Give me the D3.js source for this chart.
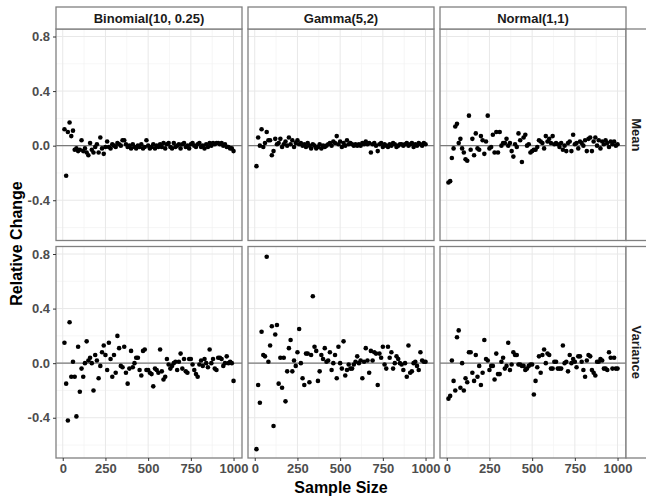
<!DOCTYPE html>
<html>
<head>
<meta charset="utf-8">
<script src="https://cdn.jsdelivr.net/npm/d3@7"></script>
<style>
  body { margin: 0; background: #fff; }
  text { font-family: "Liberation Sans", Arial, sans-serif; }
</style>
</head>
<body>
<div id="chart"></div>
<script>
var distributions = ["Binomial(10, 0.25)", "Gamma(5,2)", "Normal(1,1)"];
var statistics = ["Mean", "Variance"];

var sampleSizes = [10,20,30,40,50,60,70,80,90,100,110,120,130,140,150,160,170,180,190,200,
  210,220,230,240,250,260,270,280,290,300,310,320,330,340,350,360,370,380,390,400,
  410,420,430,440,450,460,470,480,490,500,510,520,530,540,550,560,570,580,590,600,
  610,620,630,640,650,660,670,680,690,700,710,720,730,740,750,760,770,780,790,800,
  810,820,830,840,850,860,870,880,890,900,910,920,930,940,950,960,970,980,990,1000];

var binomMean = [0.12,-0.22,0.10,0.17,0.07,0.11,-0.03,-0.02,-0.04,-0.03,
  0.04,-0.04,-0.02,-0.05,-0.07,0.02,-0.03,-0.05,-0.01,0.01,
  -0.05,0.06,-0.02,-0.06,-0.01,0.03,-0.01,-0.02,0.01,0.00,
  -0.01,0.02,0.01,0.00,0.04,0.04,0.01,-0.01,0.00,-0.02,
  0.01,-0.01,-0.02,0.00,-0.01,0.01,-0.02,-0.01,0.04,0.00,
  -0.02,-0.01,0.01,-0.02,0.00,-0.01,0.01,-0.01,0.02,-0.02,
  0.01,0.02,-0.01,-0.02,0.02,-0.01,0.00,0.01,-0.02,0.01,
  0.02,-0.01,0.00,-0.02,0.01,0.02,0.00,-0.01,0.01,0.02,
  -0.01,0.00,-0.02,0.01,-0.01,0.02,0.00,0.02,0.01,0.02,
  0.02,0.01,0.02,0.00,0.01,-0.01,-0.01,-0.02,-0.02,-0.04];

var gammaMean = [-0.15,0.06,0.00,0.12,-0.01,0.02,0.10,0.04,0.04,-0.07,
  -0.04,0.05,0.01,0.02,0.05,-0.01,0.01,0.03,0.00,0.06,
  0.01,0.04,-0.01,0.02,0.04,0.01,0.02,0.00,0.01,-0.01,
  0.02,0.00,-0.02,0.01,0.00,-0.02,-0.01,0.01,-0.02,0.00,
  -0.01,0.00,0.01,0.02,0.00,0.03,0.02,0.07,0.01,0.03,
  -0.01,0.02,0.00,0.04,0.01,0.02,0.01,0.00,0.01,0.00,
  0.01,0.00,0.02,0.01,0.03,0.01,0.02,-0.05,0.01,0.02,
  0.00,-0.04,0.01,0.02,-0.01,0.01,0.00,-0.01,0.01,0.00,
  0.02,0.01,-0.01,0.00,0.01,0.01,0.00,0.01,0.02,0.00,
  0.01,0.02,-0.01,0.01,0.00,0.02,0.01,0.00,0.02,0.01];

var normalMean = [-0.27,-0.26,-0.09,-0.02,0.14,0.16,0.02,0.05,-0.02,-0.05,
  -0.10,-0.11,0.22,-0.03,0.05,-0.07,0.09,-0.02,-0.03,0.07,
  0.04,-0.06,0.03,0.22,-0.02,-0.01,0.08,-0.05,0.10,-0.05,
  0.10,0.00,0.02,0.02,0.05,0.00,0.02,-0.04,-0.08,0.01,
  -0.01,0.09,0.04,-0.12,0.06,0.08,0.00,0.01,-0.05,-0.04,
  -0.03,-0.03,-0.01,0.04,0.03,0.02,-0.02,0.07,0.03,0.05,
  0.02,0.07,0.01,0.02,0.01,-0.01,0.02,-0.03,0.00,-0.04,
  0.02,0.03,-0.04,0.08,0.01,0.02,-0.02,0.03,0.02,0.00,
  0.04,-0.04,0.05,0.06,-0.04,0.03,0.06,0.00,0.04,-0.02,
  0.03,0.01,0.04,0.02,-0.01,0.03,0.01,0.03,0.00,0.01];

var binomVar = [0.15,-0.15,-0.42,0.30,-0.10,0.01,-0.10,-0.39,0.12,-0.21,
  -0.04,-0.10,0.00,0.16,0.02,0.04,0.00,-0.20,0.06,0.02,
  -0.11,-0.02,0.08,0.13,0.06,-0.05,0.15,0.03,-0.10,0.06,
  -0.07,0.20,0.11,-0.02,-0.03,0.12,-0.07,-0.15,-0.04,0.09,
  -0.03,0.00,0.04,0.04,-0.05,-0.09,0.09,0.10,-0.05,-0.05,
  -0.07,-0.08,-0.17,-0.04,-0.05,-0.07,0.10,-0.06,-0.12,-0.10,
  0.03,-0.01,-0.04,-0.02,0.00,0.01,-0.05,0.01,0.07,-0.04,
  0.03,-0.06,-0.07,0.03,0.03,-0.01,-0.05,-0.08,-0.10,-0.01,
  0.02,-0.02,0.03,0.00,-0.03,0.10,0.00,0.03,-0.04,-0.05,
  0.04,0.04,0.03,-0.02,0.00,0.05,0.00,0.01,0.00,-0.13];

var gammaVar = [-0.63,-0.16,-0.29,0.23,0.06,0.05,0.78,0.01,0.13,0.27,
  -0.46,0.21,0.28,-0.15,0.04,-0.18,0.04,-0.28,-0.06,0.11,
  0.17,-0.06,0.02,-0.02,0.08,0.25,0.00,-0.11,-0.16,0.07,
  0.07,-0.14,0.06,0.49,0.12,0.09,-0.13,-0.06,0.06,0.03,
  0.11,0.01,0.02,0.08,-0.05,0.00,0.06,-0.11,0.12,0.00,
  -0.04,0.16,-0.09,-0.05,-0.01,-0.04,-0.04,-0.01,0.01,0.05,
  0.00,0.02,-0.11,0.01,0.11,0.02,-0.07,0.09,0.02,0.08,
  0.07,-0.16,0.07,0.04,0.12,-0.01,-0.04,0.12,0.04,0.08,
  -0.04,0.00,0.05,0.03,0.00,-0.01,-0.05,0.00,-0.10,0.13,
  -0.07,-0.06,0.00,0.01,-0.02,-0.05,0.08,0.02,0.01,0.01];

var normalVar = [-0.26,-0.24,0.02,-0.13,-0.20,0.19,0.24,-0.18,0.00,-0.20,
  -0.11,-0.14,0.08,0.08,-0.07,-0.13,0.06,-0.10,-0.02,-0.16,
  -0.07,0.17,0.03,0.02,-0.05,-0.02,-0.02,-0.12,0.07,-0.08,
  -0.08,0.01,0.04,-0.04,-0.02,0.15,-0.05,-0.01,0.08,0.06,
  0.06,-0.01,-0.01,-0.02,-0.02,-0.05,-0.04,-0.02,-0.01,-0.01,
  -0.23,-0.13,-0.03,0.05,-0.07,0.06,0.10,0.00,0.07,0.06,
  -0.04,-0.04,0.01,0.01,-0.04,-0.04,-0.04,0.13,0.00,0.01,
  -0.06,0.06,0.00,0.03,0.01,-0.03,0.05,0.05,0.01,-0.05,
  -0.10,0.02,0.06,0.05,-0.05,-0.07,-0.09,0.01,0.01,0.03,
  0.02,-0.04,-0.04,-0.05,0.08,0.04,-0.04,0.04,-0.04,-0.04];

var xTicks = [0, 250, 500, 750, 1000];
var xMinor = [125, 375, 625, 875];
var yTicks = [-0.4, 0, 0.4, 0.8];
var yMinor = [-0.6, -0.2, 0.2, 0.6];

var panelValues = [
  [binomMean, gammaMean, normalMean],
  [binomVar, gammaVar, normalVar]
];

var W = 646, H = 496;
var colX = [56, 248, 440], pw = 186;
var rowY = [29, 246.5], ph = 211.5;
var stripH = 22, stripW = 21;
var borderCol = "#808080";

var svg = d3.select("#chart").append("svg")
  .attr("width", W).attr("height", H);

var x = d3.scaleLinear().domain([-39.5, 1049.5]).range([0, pw]);
var y = d3.scaleLinear().domain([-0.695, 0.855]).range([ph, 0]);

statistics.forEach(function(stat, r) {
  distributions.forEach(function(dist, c) {
    var g = svg.append("g")
      .attr("transform", "translate(" + colX[c] + "," + rowY[r] + ")");

    g.append("rect").attr("width", pw).attr("height", ph).attr("fill", "#fff");

    // minor grid
    g.selectAll(".ymin").data(yMinor).enter().append("line")
      .attr("x1", 0).attr("x2", pw)
      .attr("y1", function(d) { return y(d); }).attr("y2", function(d) { return y(d); })
      .attr("stroke", "#f2f2f2").attr("stroke-width", 0.7);
    g.selectAll(".xmin").data(xMinor).enter().append("line")
      .attr("y1", 0).attr("y2", ph)
      .attr("x1", function(d) { return x(d); }).attr("x2", function(d) { return x(d); })
      .attr("stroke", "#f2f2f2").attr("stroke-width", 0.7);
    // major grid
    g.selectAll(".ymaj").data(yTicks).enter().append("line")
      .attr("x1", 0).attr("x2", pw)
      .attr("y1", function(d) { return y(d); }).attr("y2", function(d) { return y(d); })
      .attr("stroke", "#e8e8e8").attr("stroke-width", 1);
    g.selectAll(".xmaj").data(xTicks).enter().append("line")
      .attr("y1", 0).attr("y2", ph)
      .attr("x1", function(d) { return x(d); }).attr("x2", function(d) { return x(d); })
      .attr("stroke", "#e8e8e8").attr("stroke-width", 1);

    // zero line
    g.append("line")
      .attr("x1", 0).attr("x2", pw).attr("y1", y(0)).attr("y2", y(0))
      .attr("stroke", "#7a7a7a").attr("stroke-width", 1.4);

    var vals = panelValues[r][c];
    g.selectAll("circle").data(sampleSizes).enter().append("circle")
      .attr("cx", function(d) { return x(d); })
      .attr("cy", function(d, i) { return y(vals[i]); })
      .attr("r", 2.3)
      .attr("fill", "#000");

    g.append("rect").attr("width", pw).attr("height", ph)
      .attr("fill", "none").attr("stroke", borderCol).attr("stroke-width", 1.3);

    if (c === 0) {
      var ya = g.append("g").call(d3.axisLeft(y).tickValues(yTicks).tickSize(3)
        .tickFormat(function(d) { return d.toFixed(1); }));
      ya.select(".domain").remove();
      ya.selectAll("line").attr("stroke", "#333");
      ya.selectAll("text").attr("fill", "#4d4d4d").attr("font-size", "13px")
        .attr("font-weight", "bold").attr("font-family", "Liberation Sans, Arial, sans-serif");
    }
    if (r === statistics.length - 1) {
      var xa = g.append("g").attr("transform", "translate(0," + ph + ")")
        .call(d3.axisBottom(x).tickValues(xTicks).tickSize(3)
          .tickFormat(function(d) { return String(d); }));
      xa.select(".domain").remove();
      xa.selectAll("line").attr("stroke", "#333");
      xa.selectAll("text").attr("fill", "#4d4d4d").attr("font-size", "13px")
        .attr("font-weight", "bold").attr("font-family", "Liberation Sans, Arial, sans-serif");
    }
  });
});

// top strips
distributions.forEach(function(dist, c) {
  var s = svg.append("g").attr("transform", "translate(" + colX[c] + "," + (rowY[0] - stripH) + ")");
  s.append("rect").attr("width", pw).attr("height", stripH)
    .attr("fill", "#fff").attr("stroke", borderCol).attr("stroke-width", 1.3);
  s.append("text").attr("x", pw / 2).attr("y", stripH / 2).attr("dy", "0.36em")
    .attr("text-anchor", "middle").attr("font-size", "13px").attr("font-weight", "bold")
    .attr("fill", "#1a1a1a").text(dist);
});

// right strips
statistics.forEach(function(stat, r) {
  var sx = colX[2] + pw;
  var s = svg.append("g").attr("transform", "translate(" + sx + "," + rowY[r] + ")");
  s.append("rect").attr("width", stripW).attr("height", ph)
    .attr("fill", "#fff").attr("stroke", borderCol).attr("stroke-width", 1.3);
  s.append("text")
    .attr("transform", "translate(" + (stripW / 2) + "," + (ph / 2) + ") rotate(90)")
    .attr("dy", "0.36em").attr("text-anchor", "middle")
    .attr("font-size", "13px").attr("font-weight", "bold").attr("fill", "#1a1a1a")
    .text(stat);
});

// axis titles
svg.append("text")
  .attr("x", (colX[0] + colX[2] + pw) / 2).attr("y", 493)
  .attr("text-anchor", "middle").attr("font-size", "16px").attr("font-weight", "bold")
  .text("Sample Size");

svg.append("text")
  .attr("transform", "translate(22," + ((rowY[0] + rowY[1] + ph) / 2) + ") rotate(-90)")
  .attr("text-anchor", "middle").attr("font-size", "16px").attr("font-weight", "bold")
  .text("Relative Change");
</script>
</body>
</html>
